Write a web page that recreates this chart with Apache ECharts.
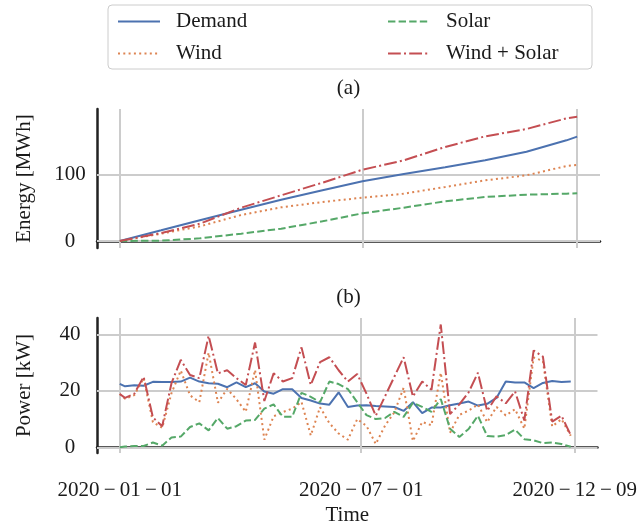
<!DOCTYPE html>
<html>
<head>
<meta charset="utf-8">
<script src="https://cdn.jsdelivr.net/npm/echarts@6/dist/echarts.min.js"></script>
<style>
  html, body { margin: 0; padding: 0; background: #ffffff; }
  #chart { width: 640px; height: 527px; }
</style>
</head>
<body>
<div id="chart"></div>
<script>
// ---- (a) cumulative energy, MWh ----
const energyDates = ['2020-01-01', '2020-02-01', '2020-03-01', '2020-04-01', '2020-05-01', '2020-06-01',
  '2020-07-01', '2020-08-01', '2020-09-01', '2020-10-01', '2020-11-01', '2020-12-01', '2020-12-09'];
const energyDemand = [0, 16, 31, 47, 62, 76, 89.5, 100.5, 110.5, 121, 134, 151, 156.5];
const energyWind = [0, 11, 22, 39, 50.5, 58.5, 65, 71, 81, 91, 98.5, 112.5, 114];
const energySolar = [0, 0.5, 4, 11, 18.5, 29.5, 41.5, 50, 59.5, 66, 69.5, 71, 71.5];
const energyWindSolar = [0, 12, 26, 50, 68.5, 87.5, 107, 121, 141, 157, 168, 184, 186.5];

// ---- (b) weekly mean power, kW ----
const powerDates = ['2020-01-01', '2020-01-05', '2020-01-12', '2020-01-19', '2020-01-26',
  '2020-02-02', '2020-02-09', '2020-02-16', '2020-02-23', '2020-03-01', '2020-03-08', '2020-03-15',
  '2020-03-22', '2020-03-29', '2020-04-05', '2020-04-12', '2020-04-19', '2020-04-26', '2020-05-03',
  '2020-05-10', '2020-05-17', '2020-05-24', '2020-05-31', '2020-06-07', '2020-06-14', '2020-06-21',
  '2020-06-28', '2020-07-05', '2020-07-12', '2020-07-19', '2020-07-26', '2020-08-02', '2020-08-09',
  '2020-08-16', '2020-08-23', '2020-08-30', '2020-09-06', '2020-09-13', '2020-09-20', '2020-09-27',
  '2020-10-04', '2020-10-11', '2020-10-18', '2020-10-25', '2020-11-01', '2020-11-08', '2020-11-15',
  '2020-11-22', '2020-11-29', '2020-12-06'];
const powerDemand = [22.5, 21.6, 22.0, 21.8, 23.2, 23.1, 23.1, 23.3, 24.7, 23.3, 22.7, 22.5, 21.3,
  23.0, 21.3, 22.7, 19.8, 19.0, 20.6, 20.6, 17.5, 16.6, 15.5, 15.1, 19.5, 14.3, 14.8, 14.9, 14.6,
  14.5, 14.3, 12.9, 16.0, 12.1, 14.1, 14.1, 14.9, 15.5, 16.2, 14.8, 15.4, 17.5, 23.3, 23.0, 23.0,
  21.0, 22.8, 23.5, 23.1, 23.3];
const powerWind = [18.9, 17.2, 18.5, 24.5, 8.9, 6.9, 19.2, 27.2, 18.4, 16.0, 33.5, 15.8, 20.7,
  17.0, 12.6, 27.4, 2.7, 11.0, 12.5, 13.7, 16.1, 4.2, 14.2, 8.6, 4.9, 2.7, 10.0, 7.6, 1.2,
  7.7, 12.4, 21.1, 2.2, 9.0, 7.8, 26.4, 5.2, 11.5, 13.0, 15.2, 8.9, 14.3, 11.3, 13.5, 6.6,
  31.8, 30.6, 7.4, 10.0, 4.1];
const powerSolar = [0.0, 0.3, 0.5, 0.5, 1.7, 0.6, 3.5, 3.8, 7.2, 8.5, 6.0, 10.4, 6.6,
  7.5, 9.5, 9.7, 13.7, 15.2, 10.8, 10.8, 19.3, 17.9, 16.0, 23.3, 22.4, 20.6, 16.0, 11.4, 10.0,
  10.4, 12.6, 10.8, 15.8, 14.3, 12.6, 17.1, 6.6, 3.7, 6.5, 11.2, 4.0, 3.8, 4.3, 6.3, 2.9,
  2.5, 1.5, 1.7, 1.2, 0.2];
const powerWindSolar = [18.9, 17.5, 19.0, 25.0, 10.6, 7.5, 22.7, 31.0, 25.6, 24.5, 39.5, 26.2, 27.3,
  24.5, 22.1, 37.1, 16.4, 26.2, 23.3, 24.5, 35.4, 22.1, 30.2, 31.9, 27.3, 23.3, 26.0, 19.0, 11.2,
  18.1, 25.0, 31.9, 18.0, 23.3, 20.4, 43.5, 11.8, 15.2, 19.5, 26.4, 12.9, 18.1, 15.6, 19.8, 9.5,
  34.3, 32.1, 9.1, 11.2, 4.3];

// ---- ticks ----
const timeTicks = ['2020-01-01', '2020-07-01', '2020-12-09'];
const timeTickLabels = ['2020\u2009\u2212\u200901\u2009\u2212\u200901',
  '2020\u2009\u2212\u200907\u2009\u2212\u200901',
  '2020\u2009\u2212\u200912\u2009\u2212\u200909'];
const energyTicks = [0, 100];
const powerTicks = [0, 20, 40];

const seriesNames = ['Demand', 'Wind', 'Solar', 'Wind + Solar'];

// ---- styling ----
const FONT = 'Liberation Serif';
const FS = 21;
const INK = '#1a1a1a';
const SPINE = '#222222';
const GRID = '#cccccc';
const COLORS = { 'Demand': '#4c72b0', 'Wind': '#dd8452', 'Solar': '#55a868', 'Wind + Solar': '#c44e52' };
const DASHES = { 'Demand': 'solid', 'Wind': [2, 3.3], 'Solar': [7.4, 3.2], 'Wind + Solar': [12.8, 3.2, 2, 3.2] };

// dates are placed on a linear axis as millisecond timestamps
function toTime(s) {
  const p = s.split('-').map(Number);
  return Date.UTC(p[0], p[1] - 1, p[2]);
}
const tickTimes = timeTicks.map(toTime);
const span = tickTimes[tickTimes.length - 1] - tickTimes[0];
const xMin = tickTimes[0] - 0.05 * span;
const xMax = tickTimes[tickTimes.length - 1] + 0.05 * span;

function tickLabel(v) {
  let best = 0;
  tickTimes.forEach((t, i) => { if (Math.abs(t - v) < Math.abs(tickTimes[best] - v)) best = i; });
  return timeTickLabels[best];
}

const textBase = { fontFamily: FONT, fontSize: FS, color: INK };

function timeAxis(gridIndex, withLabels) {
  return {
    type: 'value', gridIndex: gridIndex, min: xMin, max: xMax, scale: true,
    axisLine: { show: true, lineStyle: { color: SPINE, width: 2.5 } },
    axisTick: { show: false },
    splitLine: { show: false },
    axisLabel: withLabels
      ? Object.assign({ customValues: tickTimes, formatter: tickLabel, margin: 27, hideOverlap: false }, textBase)
      : { show: false },
    name: withLabels ? 'Time' : '',
    nameLocation: 'middle', nameGap: 52,
    nameTextStyle: textBase
  };
}

function valueAxis(gridIndex, min, max, ticks, name) {
  return {
    type: 'value', gridIndex: gridIndex, min: min, max: max,
    axisLine: { show: true, lineStyle: { color: SPINE, width: 2.5 } },
    axisTick: { show: false },
    splitLine: { show: false },
    axisLabel: Object.assign({ customValues: ticks, margin: 27, align: 'center' }, textBase),
    name: name, nameLocation: 'middle', nameGap: 62,
    nameTextStyle: textBase
  };
}

// light grid lines at the tick positions of a panel
function gridLines(ticks) {
  return {
    silent: true, symbol: 'none', z: 1, animation: false,
    label: { show: false },
    emphasis: { disabled: true },
    lineStyle: { color: GRID, width: 2, type: 'solid' },
    data: ticks.map(v => ({ yAxis: v })).concat(tickTimes.map(t => ({ xAxis: t })))
  };
}

function line(name, dates, values, axisIndex, ticks) {
  const s = {
    type: 'line', name: name,
    xAxisIndex: axisIndex, yAxisIndex: axisIndex,
    data: dates.map((d, i) => [toTime(d), values[i]]),
    symbol: 'none', showSymbol: false,
    z: 2,
    itemStyle: { color: COLORS[name] },
    lineStyle: { color: COLORS[name], width: 2, type: DASHES[name], cap: 'butt' },
    emphasis: { disabled: true },
    animation: false
  };
  if (ticks) s.markLine = gridLines(ticks);
  return s;
}

const energySets = [energyDemand, energyWind, energySolar, energyWindSolar];
const powerSets = [powerDemand, powerWind, powerSolar, powerWindSolar];

const series = [];
seriesNames.forEach((n, i) => series.push(line(n, energyDates, energySets[i], 0, i === 0 ? energyTicks : null)));
seriesNames.forEach((n, i) => series.push(line(n, powerDates, powerSets[i], 1, i === 0 ? powerTicks : null)));

const legendText = Object.assign({ lineHeight: FS, padding: [0, 0, 0, 11] }, textBase);

const option = {
  backgroundColor: '#ffffff',
  animation: false,
  grid: [
    { left: 97, right: 40, top: 109, height: 139 },
    { left: 97, right: 40, top: 318, height: 139 }
  ],
  xAxis: [timeAxis(0, false), timeAxis(1, true)],
  yAxis: [
    valueAxis(0, -10.5, 198, energyTicks, 'Energy [MWh]'),
    valueAxis(1, -2, 45.8, powerTicks, 'Power [kW]')
  ],
  legend: {
    orient: 'vertical',
    left: 108, top: 5, height: 65,
    padding: [6, 31, 5, 9],
    borderColor: GRID, borderWidth: 1, borderRadius: 4,
    itemWidth: 42, itemHeight: 10, itemGap: 11,
    selectedMode: false,
    itemStyle: { opacity: 0 },
    textStyle: legendText,
    data: [
      { name: 'Demand', textStyle: { width: 200 } },
      { name: 'Wind', textStyle: { width: 200 } },
      { name: 'Solar', textStyle: { width: 115 } },
      { name: 'Wind + Solar', textStyle: { width: 115 } }
    ]
  },
  graphic: [
    { type: 'text', x: 348.5, y: 88, silent: true,
      style: { text: '(a)', font: FS + 'px "Liberation Serif"', fill: INK, align: 'center', verticalAlign: 'middle' } },
    { type: 'text', x: 348.5, y: 297, silent: true,
      style: { text: '(b)', font: FS + 'px "Liberation Serif"', fill: INK, align: 'center', verticalAlign: 'middle' } }
  ],
  series: series
};

const chart = echarts.init(document.getElementById('chart'), null, { renderer: 'canvas' });
chart.setOption(option);
</script>
</body>
</html>
